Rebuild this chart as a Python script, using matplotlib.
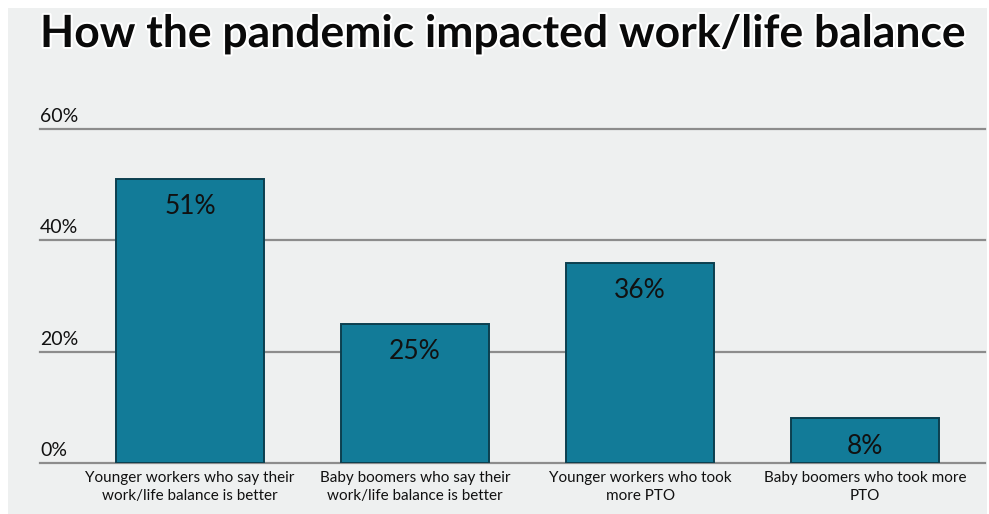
import matplotlib
matplotlib.use("Agg")
import matplotlib.pyplot as plt
import matplotlib.patheffects as pe
from matplotlib.patches import Rectangle

# data
categories = ["Younger workers who say their\nwork/life balance is better",
              "Baby boomers who say their\nwork/life balance is better",
              "Younger workers who took\nmore PTO",
              "Baby boomers who took more\nPTO"]
values = [51, 25, 36, 8]
yticks = [0, 20, 40, 60]
ytick_labels = ["0%", "20%", "40%", "60%"]

plt.rcParams['font.family'] = ['Lato', 'DejaVu Sans']

fig = plt.figure(figsize=(9.89, 5.14), dpi=100)
fig.patch.set_facecolor("white")
# light grey panel with a thin white frame
fig.patches.append(Rectangle((8/989, 0), 979/989, 506/514, transform=fig.transFigure,
                             facecolor="#eef0f0", edgecolor="none", zorder=-10))

ax = fig.add_axes([40/989, 51/514, 945/989, 334/514])
ax.set_facecolor("none")

x = list(range(len(values)))
ax.bar(x, values, width=0.66, color="#127b98", edgecolor="#0b3f4f", linewidth=1.4, zorder=3)

for xi, v in zip(x, values):
    ax.text(xi, v - 5.0, f"{v}%", ha="center", va="center", fontsize=19, color="#111111", zorder=4)

for t, lab in zip(yticks, ytick_labels):
    ax.axhline(t, color="#8c8c8c", linewidth=1.6, zorder=1, clip_on=False)
    ax.text(0, t + 0.7, lab, transform=ax.get_yaxis_transform(), ha="left", va="bottom",
            fontsize=14, color="#111111")

ax.set_xlim(-0.667, 3.533)
ax.set_ylim(0, 60)
ax.set_xticks(x)
ax.set_xticklabels(categories, fontsize=11, color="#111111", linespacing=1.3)
ax.tick_params(axis="x", length=0, pad=6)
ax.set_yticks([])
for s in ax.spines.values():
    s.set_visible(False)

fig.text(40/989, 1 - 34/514, "How the pandemic impacted work/life balance", ha="left", va="center",
         fontsize=32, fontweight="bold", color="#0a0a0a",
         path_effects=[pe.withStroke(linewidth=3, foreground="white")])

fig.savefig("out.png", dpi=100, facecolor=fig.get_facecolor())
